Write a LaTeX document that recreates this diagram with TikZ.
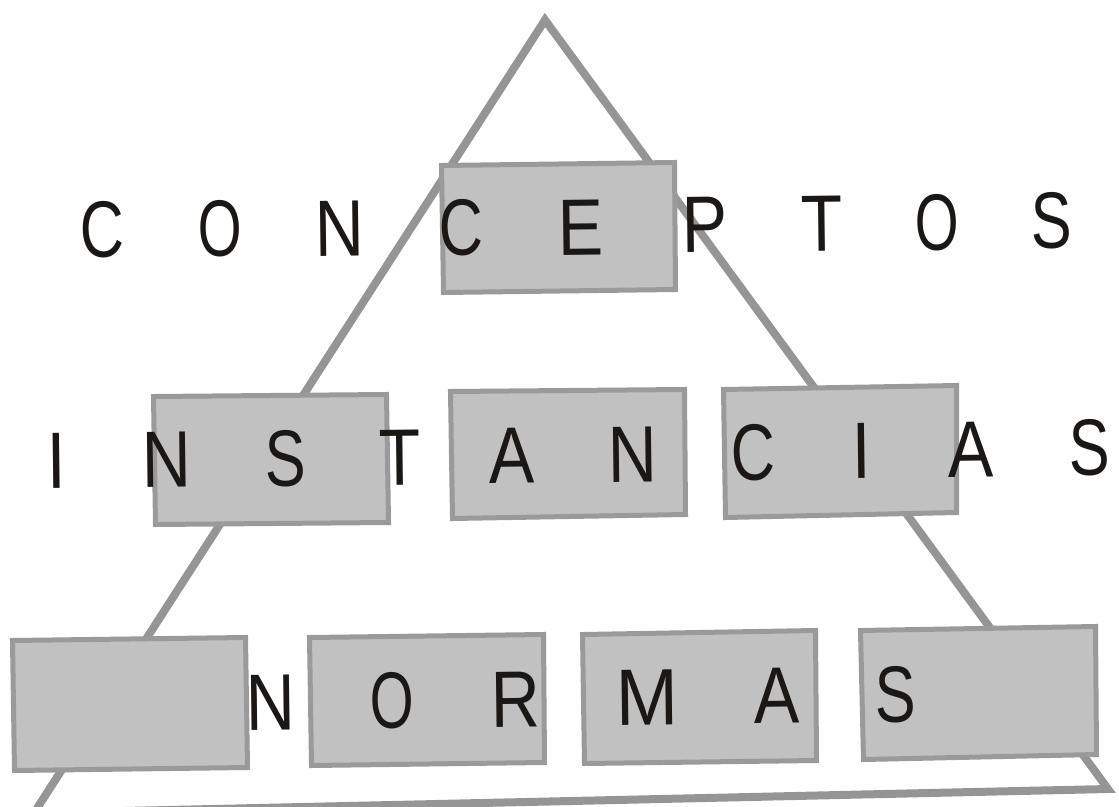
\documentclass[tikz,border=0pt]{standalone}
\usepackage{fontspec}
\setmainfont{Liberation Sans}[FakeStretch=0.85]
\definecolor{triGray}{HTML}{959595}
\definecolor{boxLine}{HTML}{9A9A9A}
\definecolor{boxFill}{HTML}{C1C1C1}
\definecolor{ink}{HTML}{1B1714}
\begin{document}
\begin{tikzpicture}[x=1pt,y=-1pt,
  tri/.style={draw=triGray, line width=8pt, line join=miter, miter limit=20},
  panel/.style={draw=boxLine, fill=boxFill, line width=5pt, line join=miter},
  letter/.style={anchor=base, inner sep=0pt, text=ink, font=\fontsize{80}{80}\selectfont, rotate=0.7}]
\useasboundingbox (0,0) rectangle (1119,806);
\clip (0,0) rectangle (1119,806);
% triangle
\coordinate (apex) at (545,20);
\coordinate (br) at (1108,789);
\coordinate (bl) at (34,813);
\draw[tri] (apex) -- (br) -- (bl) -- cycle;
% boxes
\draw[panel] (441.5,165.5) -- (674.5,162.5) -- (675.5,289.5) -- (443.5,292.5) -- cycle;
\draw[panel] (153.5,396.5) -- (386.5,394.5) -- (388.5,522.5) -- (155.5,524.5) -- cycle;
\draw[panel] (450.5,391.5) -- (684.5,389.5) -- (685.5,514.5) -- (452.5,518.5) -- cycle;
\draw[panel] (723.5,389.5) -- (956.5,385.5) -- (956.5,512.5) -- (725.5,517.5) -- cycle;
\draw[panel] (12.5,640.5) -- (245.5,637.5) -- (247.5,767.5) -- (14.5,770.5) -- cycle;
\draw[panel] (309.5,637.5) -- (543.5,634.5) -- (544.5,762.5) -- (311.5,765.5) -- cycle;
\draw[panel] (582.5,634.5) -- (815.5,630.5) -- (816.5,760.5) -- (584.5,763.5) -- cycle;
\draw[panel] (860.5,630.5) -- (1095.5,626.5) -- (1096.5,754.5) -- (863.5,759.5) -- cycle;
% CONCEPTOS
\foreach \l/\x/\y/\s [count=\i] in {C/103/257/0.9, O/220/256/0.83, N/340/256/1, C/462/255/0.9, E/581/255/1, P/705/252/1, T/822/251/1, O/937/250/0.83, S/1052/248/0.9}
  \node[letter] (c\i) at (\x,\y) {\scalebox{\s}[1]{\l}};
% INSTANCIAS
\foreach \l/\x/\y/\s [count=\i] in {I/57/488/1, N/167/487/1, S/286/486/0.9, T/400/485/1, A/512/483/1, N/633/482/1, C/754/480/0.9, I/862/478/1, A/971/477/1, S/1090/475/0.9}
  \node[letter] (i\i) at (\x,\y) {\scalebox{\s}[1]{\l}};
% NORMAS
\foreach \l/\x/\y/\s [count=\i] in {N/271/730/1, O/392/728/0.83, R/516/727/1, M/648/725/1.1, A/777/723/1, S/896/722/0.9}
  \node[letter] (n\i) at (\x,\y) {\scalebox{\s}[1]{\l}};
\end{tikzpicture}
\end{document}
